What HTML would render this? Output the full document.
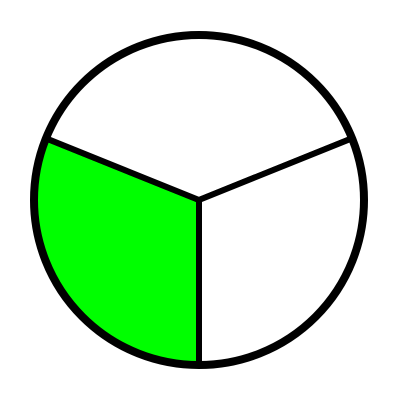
<!DOCTYPE html>
<html><head><meta charset="utf-8"><style>html,body{margin:0;padding:0;background:#fff;width:400px;height:400px;overflow:hidden}</style></head>
<body>
<svg id="chart" width="400" height="400" viewBox="0 0 400 400"></svg>
<script>
const categories = ["green-slice", "top-slice", "right-slice"];
const values = [31.1, 37.8, 31.1];
const colors = ["#00ff00", "#ffffff", "#ffffff"];
const svg = document.getElementById('chart');
const NS = 'http://www.w3.org/2000/svg';
const cx = 199, cy = 200, r = 165;
const total = values.reduce((a, b) => a + b, 0);
function pt(a) { return [cx + r * Math.cos(a), cy + r * Math.sin(a)]; }
let a0 = Math.PI / 2;
for (let i = 0; i < values.length; i++) {
  const a1 = a0 + values[i] / total * 2 * Math.PI;
  const p0 = pt(a0), p1 = pt(a1);
  const large = (a1 - a0) > Math.PI ? 1 : 0;
  const path = document.createElementNS(NS, 'path');
  path.setAttribute('d', `M${cx},${cy} L${p0[0]},${p0[1]} A${r},${r} 0 ${large} 1 ${p1[0]},${p1[1]} Z`);
  path.setAttribute('fill', colors[i]);
  path.setAttribute('stroke', '#000');
  path.setAttribute('stroke-width', '6');
  path.setAttribute('stroke-linejoin', 'round');
  
  
  svg.appendChild(path);
  a0 = a1;
}
const ring = document.createElementNS(NS, 'circle');
ring.setAttribute('cx', cx); ring.setAttribute('cy', cy); ring.setAttribute('r', r);
ring.setAttribute('fill', 'none'); ring.setAttribute('stroke', '#000'); ring.setAttribute('stroke-width', '8');


svg.appendChild(ring);
</script>
</body></html>
